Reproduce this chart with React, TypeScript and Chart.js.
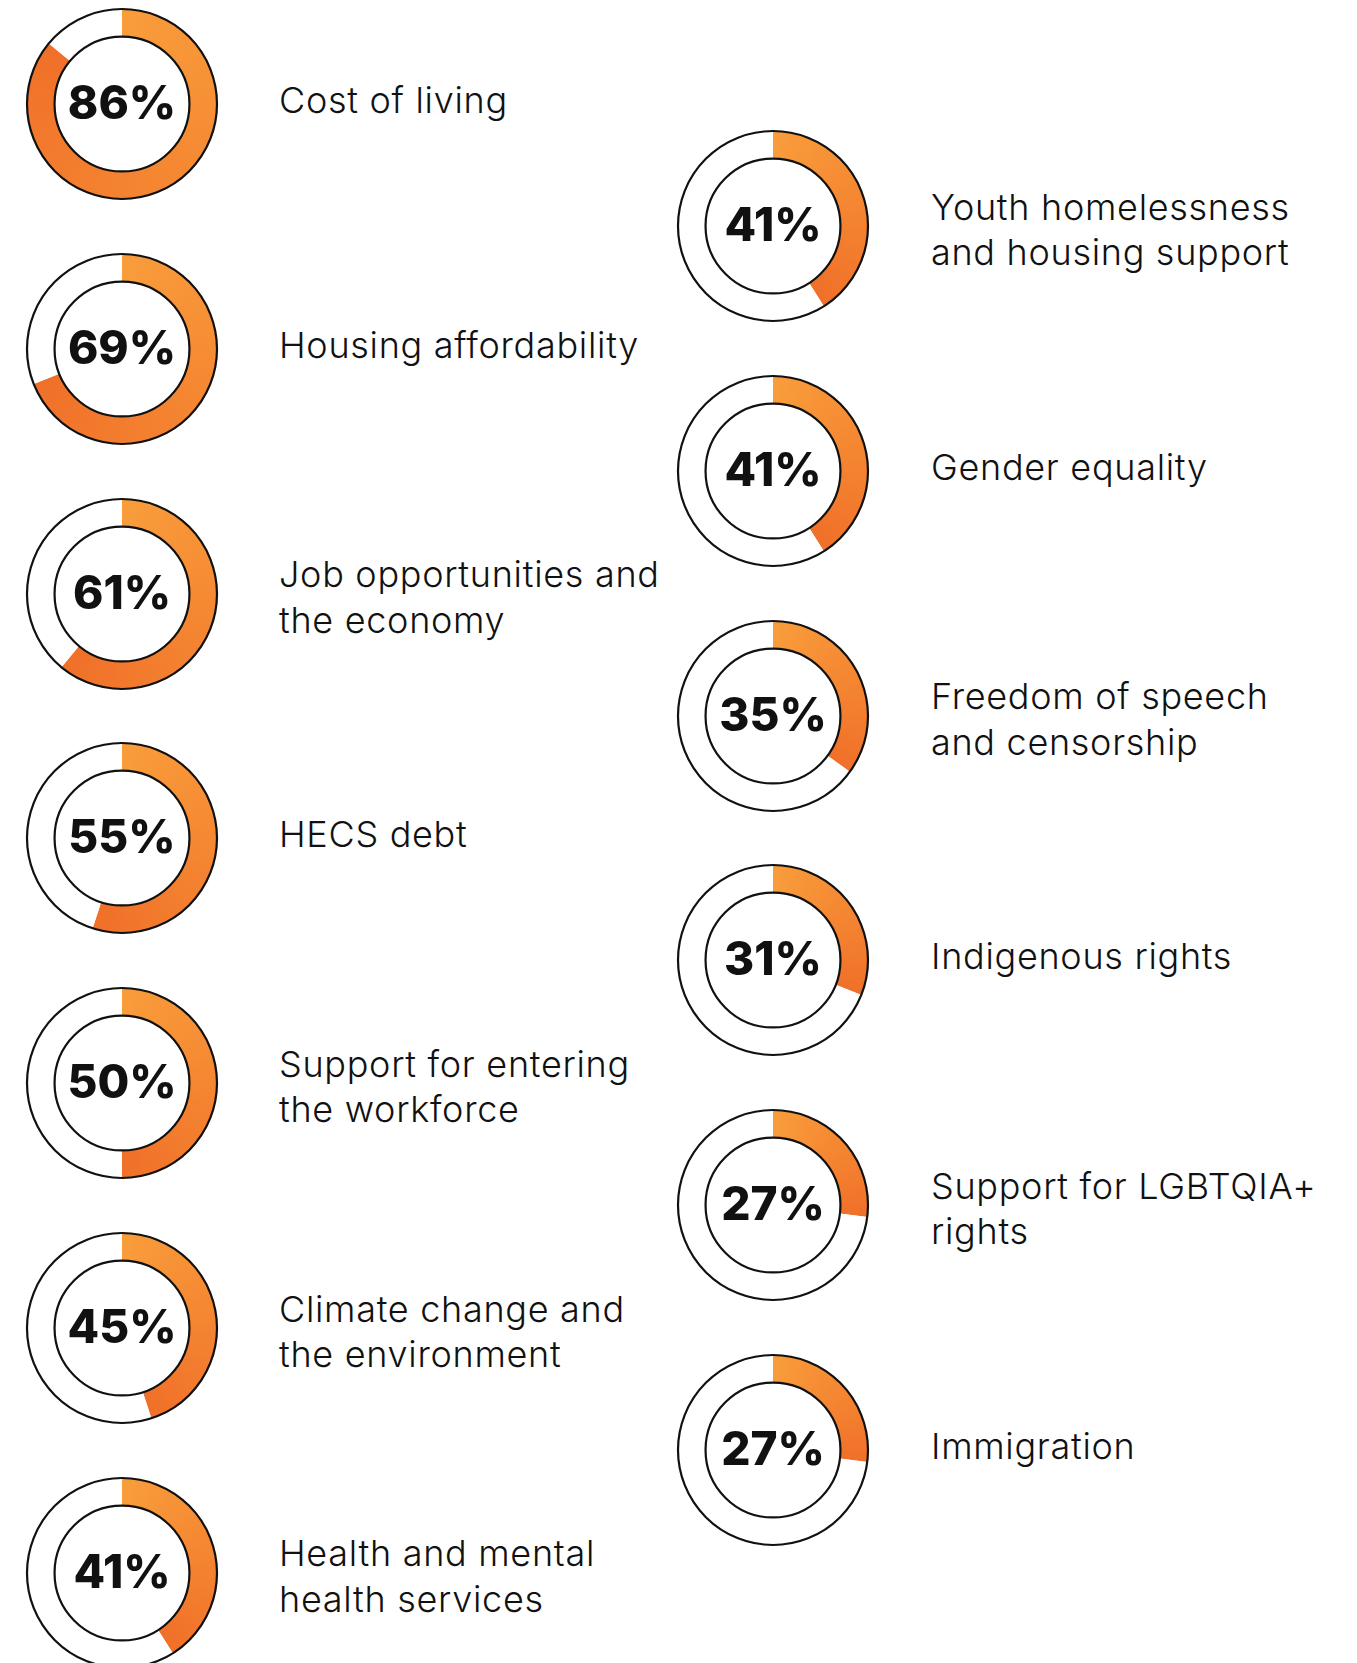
import React, { useEffect, useRef } from "react";
import { Chart, registerables } from "chart.js";

Chart.register(...registerables);

const LEFT_LABELS = [
  "Cost of living",
  "Housing affordability",
  "Job opportunities and\nthe economy",
  "HECS debt",
  "Support for entering\nthe workforce",
  "Climate change and\nthe environment",
  "Health and mental\nhealth services",
];
const LEFT_VALUES = [86, 69, 61, 55, 50, 45, 41];

const RIGHT_LABELS = [
  "Youth homelessness\nand housing support",
  "Gender equality",
  "Freedom of speech\nand censorship",
  "Indigenous rights",
  "Support for LGBTQIA+\nrights",
  "Immigration",
];
const RIGHT_VALUES = [41, 41, 35, 31, 27, 27];

const LIGHT = "#F99D3B";
const DARK = "#F07029";

const ringPlugin = {
  id: "ringOutline",
  afterDatasetsDraw(chart: any) {
    const meta = chart.getDatasetMeta(0);
    const arc = meta.data[0];
    if (!arc) return;
    const { x, y, outerRadius, innerRadius } = arc.getProps(
      ["x", "y", "outerRadius", "innerRadius"],
      true
    );
    const ctx = chart.ctx;
    ctx.save();
    ctx.strokeStyle = "#111111";
    ctx.lineWidth = 2.2;
    ctx.beginPath();
    ctx.arc(x, y, outerRadius, 0, Math.PI * 2);
    ctx.stroke();
    ctx.beginPath();
    ctx.arc(x, y, innerRadius, 0, Math.PI * 2);
    ctx.stroke();
    const v = chart.data.datasets[0].data[0];
    ctx.fillStyle = "#111111";
    ctx.font = "800 46px Inter";
    ctx.textAlign = "center";
    ctx.textBaseline = "middle";
    ctx.fillText(v + "%", x, y + 1);
    ctx.restore();
  },
};

function Donut({ value, cx, cy }: { value: number; cx: number; cy: number }) {
  const ref = useRef<HTMLCanvasElement | null>(null);
  useEffect(() => {
    if (!ref.current) return;
    const chart = new Chart(ref.current, {
      type: "doughnut",
      data: {
        labels: ["yes", "rest"],
        datasets: [
          {
            data: [value, 100 - value],
            backgroundColor: (ctx: any) => {
              if (ctx.dataIndex === 1) return "#ffffff";
              const area = ctx.chart.chartArea;
              if (!area) return LIGHT;
              const x = (area.left + area.right) / 2;
              const y = (area.top + area.bottom) / 2;
              const g = ctx.chart.ctx.createConicGradient(-Math.PI / 2, x, y);
              g.addColorStop(0, LIGHT);
              g.addColorStop(Math.min(1, value / 100), DARK);
              if (value < 100) g.addColorStop(1, DARK);
              return g;
            },
            borderWidth: 0,
          },
        ],
      },
      options: {
        responsive: false,
        animation: false,
        events: [],
        cutout: "71%",
        layout: { padding: 5 },
        plugins: { legend: { display: false }, tooltip: { enabled: false } },
      },
      plugins: [ringPlugin],
    });
    return () => chart.destroy();
  }, [value]);
  return (
    <canvas
      ref={ref}
      width={200}
      height={200}
      style={{ position: "absolute", left: cx - 100, top: cy - 100, width: 200, height: 200 }}
    />
  );
}

const labelStyle: React.CSSProperties = {
  position: "absolute",
  fontFamily: "Inter, sans-serif",
  fontWeight: 300,
  fontSize: 36,
  lineHeight: "45.6px",
  letterSpacing: "0.7px",
  color: "#111111",
  whiteSpace: "pre",
  transform: "translateY(-50%)",
};

function offsetFor(label: string) {
  return label.includes("\n") ? 4.5 : -3;
}

export default function App() {
  const step = 244.8;
  return (
    <div
      style={{
        position: "absolute",
        left: 0,
        top: 0,
        width: 1357,
        height: 1663,
        overflow: "hidden",
        background: "#ffffff",
      }}
    >
      {LEFT_VALUES.map((v, i) => {
        const cy = 104 + i * step;
        return (
          <React.Fragment key={"l" + i}>
            <Donut value={v} cx={122} cy={cy} />
            <div style={{ ...labelStyle, left: 279, top: cy + offsetFor(LEFT_LABELS[i]) }}>
              {LEFT_LABELS[i]}
            </div>
          </React.Fragment>
        );
      })}
      {RIGHT_VALUES.map((v, i) => {
        const cy = 226 + i * step;
        return (
          <React.Fragment key={"r" + i}>
            <Donut value={v} cx={773} cy={cy} />
            <div style={{ ...labelStyle, left: 931, top: cy + offsetFor(RIGHT_LABELS[i]) }}>
              {RIGHT_LABELS[i]}
            </div>
          </React.Fragment>
        );
      })}
    </div>
  );
}
